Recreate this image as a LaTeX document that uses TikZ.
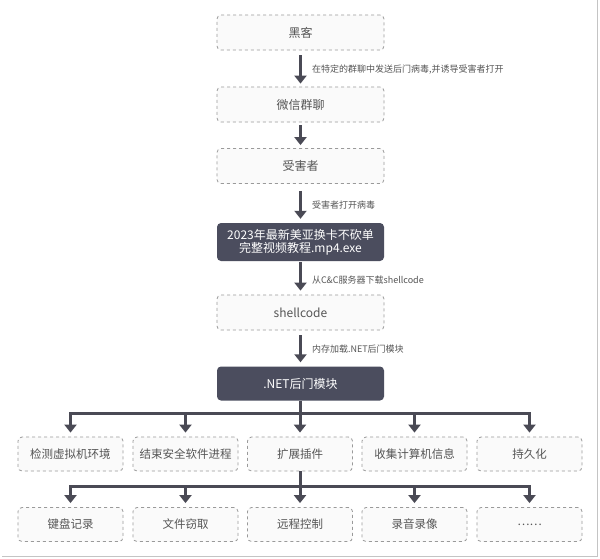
\documentclass[tikz,border=0pt]{standalone}
\usepackage{fontspec}
\setmainfont{Noto Sans CJK SC}
\usetikzlibrary{arrows.meta,calc}
\definecolor{darkbox}{HTML}{4B4D5E}
\definecolor{arrowc}{HTML}{4A4A55}
\definecolor{boxline}{HTML}{9A9A9A}
\definecolor{boxfill}{HTML}{FAFAFA}
\definecolor{txt}{HTML}{555555}
\definecolor{frame}{HTML}{C4C4C4}
\begin{document}
\begin{tikzpicture}[x=1pt,y=-1pt,
  lightbox/.style={draw=boxline, dashed, line width=0.8pt, fill=boxfill, rounded corners=4pt,
    minimum width=167pt, minimum height=35pt, inner sep=0pt, text=txt, font=\fontsize{12}{14}\selectfont, align=center},
  darkbx/.style={fill=darkbox, rounded corners=4pt,
    minimum width=167pt, minimum height=34pt, inner sep=0pt, text=white, font=\fontsize{12}{14}\selectfont, align=center},
  smallbox/.style={draw=boxline, dashed, line width=0.8pt, fill=boxfill, rounded corners=4pt,
    minimum width=105pt, minimum height=34pt, inner sep=0pt, text=txt, font=\fontsize{11.5}{14}\selectfont},
  flow/.style={draw=arrowc, line width=3pt, -{Triangle[width=12pt,length=8pt]}},
  bar/.style={draw=arrowc, line width=3pt},
  lbl/.style={anchor=west, text=txt, font=\fontsize{9}{10}\selectfont, inner sep=0pt}
]
\useasboundingbox (0,0) rectangle (600,558);
\fill[white] (0,0) rectangle (600,558);
% frame shadow
\draw[frame, line width=1.5pt] (2,556.5) -- (597.5,556.5) -- (597.5,0);

\node[lightbox] (hacker) at (300.5,32.5) {黑客};
\node[lightbox] (wechat) at (300.5,104.5) {微信群聊};
\node[lightbox] (victim) at (300.5,166) {受害者};
\node[darkbx, minimum height=38pt] (exe) at (300.5,242) {2023年最新美亚换卡不砍单\\[-1pt]完整视频教程.mp4.exe};
\node[lightbox] (shell) at (300.5,312.5) {shellcode};
\node[darkbx] (net) at (300.5,383.5) {.NET后门模块};

\draw[flow, shorten <=5pt, shorten >=3pt] (hacker) -- (wechat)
  node[lbl, midway, xshift=10pt, yshift=-1pt] {在特定的群聊中发送后门病毒,并诱导受害者打开};
\draw[flow, shorten <=3pt, shorten >=3pt] (wechat) -- (victim);
\draw[flow, shorten <=7pt, shorten >=4pt] (victim) -- (exe)
  node[lbl, midway, xshift=10pt, yshift=-2pt] {受害者打开病毒};
\draw[flow, shorten <=1pt, shorten >=4pt] (exe) -- (shell)
  node[lbl, midway, xshift=10pt, yshift=-2pt] {从C\&C服务器下载shellcode};
\draw[flow, shorten <=5pt, shorten >=4pt] (shell) -- (net)
  node[lbl, midway, xshift=10pt, yshift=-1pt] {内存加载.NET后门模块};

% first row
\node[smallbox] (b1) at (70.5,454) {检测虚拟机环境};
\node[smallbox] (b2) at (185.5,454) {结束安全软件进程};
\node[smallbox] (b3) at (300,454) {扩展插件};
\node[smallbox] (b4) at (414.5,454) {收集计算机信息};
\node[smallbox] (b5) at (529.5,454) {持久化};

\coordinate (bus1) at (300.5,413.5);
\draw[bar] (net.south) -- (bus1);
\draw[bar] ($(bus1 -| b1)+(-1.5,0)$) -- ($(bus1 -| b5)+(1.5,0)$);
\foreach \b in {b1,b2,b3,b4,b5}
  \draw[flow, shorten >=4pt] (bus1 -| \b) -- (\b.north);

% second row
\node[smallbox] (c1) at (70.5,524.5) {键盘记录};
\node[smallbox] (c2) at (185.5,524.5) {文件窃取};
\node[smallbox] (c3) at (300,524.5) {远程控制};
\node[smallbox] (c4) at (414.5,524.5) {录音录像};
\node[smallbox] (c5) at (529.5,524.5) {……};

\coordinate (bus2) at (300,486);
\draw[bar] (b3.south) -- (bus2);
\draw[bar] ($(bus2 -| c1)+(-1.5,0)$) -- ($(bus2 -| c5)+(1.5,0)$);
\foreach \c in {c1,c2,c3,c4,c5}
  \draw[flow, shorten >=4pt] (bus2 -| \c) -- (\c.north);
\end{tikzpicture}
\end{document}
